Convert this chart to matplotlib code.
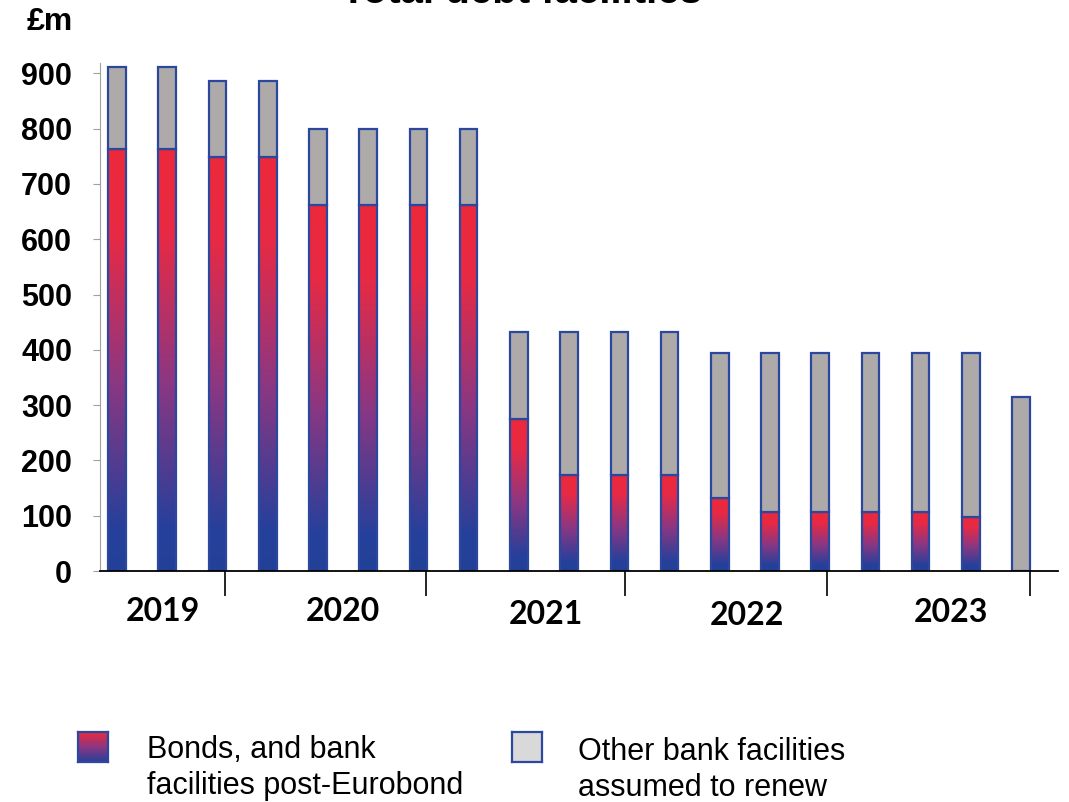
import numpy as np
import matplotlib.pyplot as plt
from matplotlib.colors import LinearSegmentedColormap

plt.rcParams['font.family'] = ['Liberation Sans', 'DejaVu Sans']

# values in £m, one bar per period
bonds = [763, 763, 749, 749, 662, 662, 662, 662, 275, 174, 174, 174,
         132, 107, 107, 107, 107, 98, 0]
totals = [911, 911, 886, 886, 799, 799, 799, 799, 432, 432, 432, 432,
          394, 394, 394, 394, 394, 394, 315]
years = ['2019', '2020', '2021', '2022', '2023']
y_ticks = [0, 100, 200, 300, 400, 500, 600, 700, 800, 900]

bonds = np.array(bonds)
other = np.array(totals) - bonds
x = np.arange(len(bonds))

# layout
year_x = [0.92, 4.5, 8.53, 12.55, 16.6]
year_y = [-74, -74, -79, -81, -75]
sep_x = [2.15, 6.16, 10.12, 14.14, 18.17]
w = 0.35
edge = '#2B479E'
grey = '#AEAAAA'

cmap = LinearSegmentedColormap.from_list('rb', [
    (0.0, (35/255, 64/255, 152/255)),
    (0.1, (38/255, 64/255, 155/255)),
    (0.45, (140/255, 55/255, 130/255)),
    (0.8, (232/255, 42/255, 68/255)),
    (1.0, (237/255, 41/255, 59/255))])
grad = np.linspace(0, 1, 256).reshape(-1, 1)

fig = plt.figure(figsize=(10.69, 8.02), dpi=100)
ax = fig.add_axes([0.0935, 0.288, 0.8965, 0.633])

for xi, b in zip(x, bonds):
    if b > 0:
        ax.imshow(grad, extent=[xi - w/2, xi + w/2, 0, b], origin='lower',
                  aspect='auto', cmap=cmap, zorder=2)
ax.bar(x, bonds, width=w, facecolor='none', edgecolor=edge, linewidth=1.6, zorder=3)
ax.bar(x, other, bottom=bonds, width=w, color=grey, edgecolor=edge, linewidth=1.6, zorder=3)

ax.set_xlim(-0.34, 18.74)
ax.set_ylim(0, 918)

for s in ['top', 'right']:
    ax.spines[s].set_visible(False)
ax.spines['left'].set_color('#A0A0A0')
ax.spines['bottom'].set_color('black')
ax.spines['bottom'].set_linewidth(1.3)
ax.spines['bottom'].set_zorder(4)

ax.set_yticks(y_ticks)
ax.set_yticklabels([str(v) for v in y_ticks], fontsize=22, fontweight='bold')
ax.tick_params(axis='y', length=5, color='#A0A0A0', pad=15)

ax.set_xticks(sep_x)
ax.set_xticklabels([])
ax.tick_params(axis='x', length=18, width=1.2, color='black', direction='out')

for yx, yy, lab in zip(year_x, year_y, years):
    ax.text(yx, yy, lab, ha='center', va='center', fontsize=23,
            fontweight='bold', family=['Lato', 'DejaVu Sans'], clip_on=False)

fig.text(0.047, 0.9726, '£m', ha='center', va='center', fontsize=23, fontweight='bold')
fig.text(0.488, 0.996, 'Total debt facilities', ha='center', va='baseline',
         fontsize=29, fontweight='bold')

# legend
lax = fig.add_axes([78/1069, 1 - 762/802, 30/1069, 30/802])
lax.imshow(grad, origin='lower', aspect='auto', cmap=LinearSegmentedColormap.from_list(
    'lg', [(38/255, 64/255, 155/255), (140/255, 55/255, 130/255), (237/255, 41/255, 59/255)]))
lax.set_xticks([])
lax.set_yticks([])
for s in lax.spines.values():
    s.set_color(edge)
    s.set_linewidth(1.6)

gax = fig.add_axes([512/1069, 1 - 762/802, 30/1069, 30/802])
gax.set_facecolor('#D9D9D9')
gax.set_xticks([])
gax.set_yticks([])
for s in gax.spines.values():
    s.set_color(edge)
    s.set_linewidth(1.6)

fig.text(147/1069, 1 - 768/802, 'Bonds, and bank\nfacilities post-Eurobond',
         ha='left', va='center', fontsize=22, linespacing=1.28)
fig.text(578/1069, 1 - 770/802, 'Other bank facilities\nassumed to renew',
         ha='left', va='center', fontsize=22, linespacing=1.28)

fig.savefig('out.png', dpi=100)
